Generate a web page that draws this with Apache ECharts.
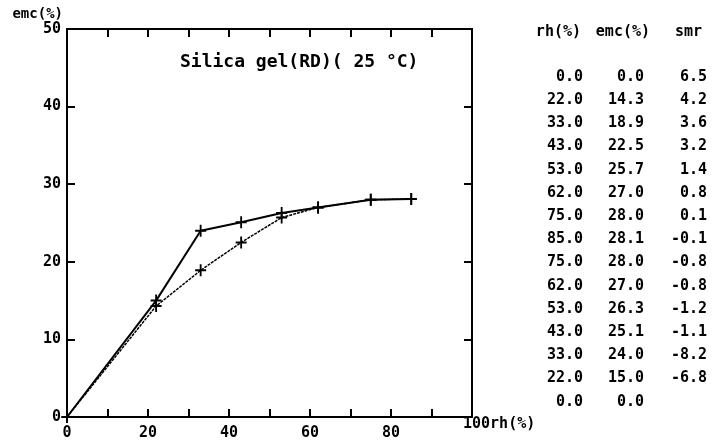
<!DOCTYPE html>
<html>
<head>
<meta charset="utf-8">
<script src="https://cdn.jsdelivr.net/npm/echarts@6/dist/echarts.min.js"></script>
<style>
  html, body { margin: 0; padding: 0; background: #fff; }
  #chart { width: 713px; height: 441px; }
</style>
</head>
<body>
<div id="chart"></div>
<script>
// table rows as printed: adsorption 0..7, desorption 7..14
const rh = [0.0, 22.0, 33.0, 43.0, 53.0, 62.0, 75.0, 85.0, 75.0, 62.0, 53.0, 43.0, 33.0, 22.0, 0.0];
const emc = [0.0, 14.3, 18.9, 22.5, 25.7, 27.0, 28.0, 28.1, 28.0, 27.0, 26.3, 25.1, 24.0, 15.0, 0.0];
const smr = [6.5, 4.2, 3.6, 3.2, 1.4, 0.8, 0.1, -0.1, -0.8, -0.8, -1.2, -1.1, -8.2, -6.8, null];
const headers = ["rh(%)", "emc(%)", "smr"];
const xLabels = [0, 20, 40, 60, 80];

const mono = "DejaVu Sans Mono";
const ink = "#000";
const plus = "path://M-1,-6 H1 V-1 H6 V1 H1 V6 H-1 V1 H-6 V-1 H-1 Z";

const adsorption = rh.slice(0, 8).map((v, i) => [v, emc[i]]);
const desorption = rh.slice(7).map((v, i) => [v, emc[i + 7]]);

const tableText = [];
const colRight = [583, 644, 707];
const headRight = [581, 650, 702];
headers.forEach((h, c) => {
  tableText.push({
    type: "text", x: headRight[c], y: 32,
    style: { text: h, fill: ink, font: `bold 15px "${mono}"`, align: "right", verticalAlign: "middle" },
  });
});
rh.forEach((v, i) => {
  const cells = [v.toFixed(1), emc[i].toFixed(1), smr[i] == null ? "" : smr[i].toFixed(1)];
  cells.forEach((t, c) => {
    tableText.push({
      type: "text", x: colRight[c], y: 77 + i * 23.2,
      style: { text: t, fill: ink, font: `bold 15px "${mono}"`, align: "right", verticalAlign: "middle" },
    });
  });
});

const axisLine = { onZero: false, lineStyle: { color: ink, width: 2 } };
const axisTick = { inside: true, length: 8, lineStyle: { color: ink, width: 2 } };

const chart = echarts.init(document.getElementById("chart"), null, { renderer: "canvas" });
chart.setOption({
  backgroundColor: "#fff",
  animation: false,
  title: {
    text: "Silica gel(RD)( 25 °C)",
    left: 175, top: 48,
    textStyle: { color: ink, fontFamily: mono, fontWeight: "bold", fontSize: 18 },
  },
  grid: { left: 67, right: 241, top: 29, bottom: 24 },
  xAxis: [
    {
      type: "value", min: 0, max: 100, interval: 10, position: "bottom",
      axisLine, axisTick, splitLine: { show: false },
      axisLabel: {
        color: ink, fontFamily: mono, fontWeight: "bold", fontSize: 15, margin: 9,
        formatter: (v) => (xLabels.includes(v) ? String(v) : ""),
      },
      name: "100rh(%)", nameLocation: "end", nameGap: -9,
      nameTextStyle: { color: ink, fontFamily: mono, fontWeight: "bold", fontSize: 15, verticalAlign: "top", padding: [0, 0, 0, 0] },
    },
    {
      type: "value", min: 0, max: 100, interval: 10, position: "top",
      axisLine, axisTick, axisLabel: { show: false }, splitLine: { show: false },
    },
  ],
  yAxis: [
    {
      type: "value", min: 0, max: 50, interval: 10, position: "left",
      axisLine, axisTick, splitLine: { show: false },
      axisLabel: { color: ink, fontFamily: mono, fontWeight: "bold", fontSize: 15, margin: 6 },
      name: "emc(%)", nameLocation: "end", nameGap: 8,
      nameTextStyle: { color: ink, fontFamily: mono, fontWeight: "bold", fontSize: 14, align: "right", padding: [0, 4, 0, 0] },
    },
    {
      type: "value", min: 0, max: 50, interval: 10, position: "right",
      axisLine, axisTick, axisLabel: { show: false }, splitLine: { show: false },
    },
  ],
  graphic: tableText,
  series: [
    {
      name: "desorption", type: "line", data: desorption,
      symbol: plus, symbolSize: [11, 12],
      itemStyle: { color: ink }, lineStyle: { color: ink, width: 2 },
    },
    {
      name: "adsorption", type: "line", data: adsorption, z: 3,
      symbol: plus, symbolSize: [11, 12],
      itemStyle: { color: ink }, lineStyle: { color: ink, width: 1.5, type: [3, 1] },
    },
  ],
});
</script>
</body>
</html>
